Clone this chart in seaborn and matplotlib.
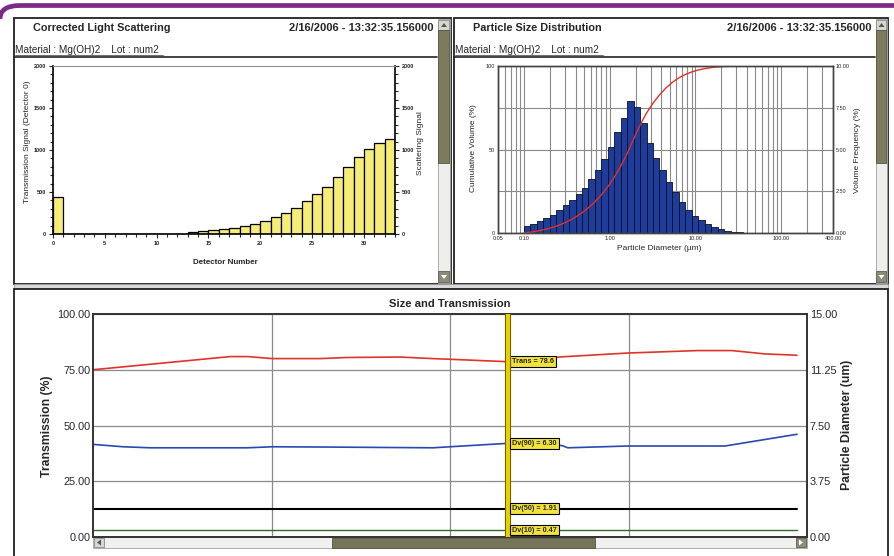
import numpy as np
import pandas as pd
import seaborn as sns
import matplotlib.pyplot as plt
from matplotlib.patches import Rectangle, Polygon, PathPatch
from matplotlib.path import Path
from matplotlib.ticker import MultipleLocator, FixedLocator, LogLocator, NullFormatter
import matplotlib.patheffects as pe

# ---- data ----
# Corrected light scattering (detector number -> signal)
det_numbers = [0, 13, 14, 15, 16, 17, 18, 19, 20, 21, 22, 23, 24, 25, 26, 27, 28, 29, 30, 31, 32]
det_signal = [435, 24, 32, 43, 59, 75, 91, 122, 154, 202, 249, 308, 391, 474, 565, 684,
              794, 913, 1016, 1079, 1134]

# Particle size distribution: bin edges (um) and volume frequency (%)
psd_edges = [0.100, 0.119, 0.141, 0.168, 0.200, 0.238, 0.283, 0.336, 0.400, 0.476,
             0.566, 0.673, 0.800, 0.951, 1.131, 1.345, 1.600, 1.903, 2.263, 2.691,
             3.200, 3.806, 4.526, 5.382, 6.400, 7.611, 9.051, 10.76, 12.80, 15.22,
             18.10, 21.53, 25.60, 30.44, 36.20]
psd_freq = [0.44, 0.56, 0.70, 0.89, 1.09, 1.35, 1.65, 1.99, 2.33, 2.72, 3.22, 3.80,
            4.43, 5.17, 6.04, 6.88, 7.91, 7.55, 6.56, 5.37, 4.47, 3.78, 3.08, 2.43,
            1.83, 1.39, 1.03, 0.76, 0.54, 0.38, 0.24, 0.14, 0.08, 0.04]
psd_xticks = [0.05, 0.10, 1.00, 10.00, 100.00, 400.00]

# Size and transmission trend (x = position along the record, 0-100)
trans_t = [0, 19.2, 21.7, 25.1, 31.8, 35.6, 43.0, 47.6, 50.0, 58.1, 65.7, 74.9, 84.7, 89.5, 94.1, 98.6]
trans_v = [75.0, 80.9, 80.9, 80.0, 80.0, 80.5, 80.7, 80.0, 79.7, 78.6, 80.8, 82.5, 83.6, 83.6, 82.1, 81.5]
dv90_t = [0, 4.2, 8.0, 21.6, 25.1, 32.8, 47.6, 50.0, 58.1, 65.7, 66.5, 74.9, 88.5, 98.6]
dv90_v = [6.23, 6.07, 6.00, 6.00, 6.07, 6.05, 6.00, 6.07, 6.30, 6.15, 6.00, 6.12, 6.12, 6.91]
dv50_t = [0, 98.6]
dv50_v = [1.91, 1.91]
dv10_t = [0, 98.6]
dv10_v = [0.47, 0.47]
cursor_t = 58.1
cursor_labels = ["Trans = 78.6", "Dv(90) = 6.30", "Dv(50) = 1.91", "Dv(10) = 0.47"]
cursor_vals = [78.6, 6.30, 1.91, 0.47]

# ---- style ----
sns.set_style("white")
plt.rcParams["font.family"] = ["Liberation Sans", "DejaVu Sans"]

W, H = 895, 556
fig = plt.figure(figsize=(W / 100, H / 100), dpi=100)
bg = fig.add_axes([0, 0, 1, 1], zorder=0)
bg.set_xlim(0, W)
bg.set_ylim(H, 0)
bg.axis("off")


def px_axes(l, t, r, b, z=2):
    return fig.add_axes([l / W, 1 - b / H, (r - l) / W, (b - t) / H], zorder=z)


def rect(x0, y0, x1, y1, fc, ec="none", lw=0, z=1):
    bg.add_patch(Rectangle((x0, y0), x1 - x0, y1 - y0, facecolor=fc,
                           edgecolor=ec, linewidth=lw, zorder=z))


def tri(pts, color, z=4):
    bg.add_patch(Polygon(pts, closed=True, facecolor=color, edgecolor="none", zorder=z))


def vscroll(x0, x1, y0, y1, t0, t1):
    rect(x0, y0, x1, y1, "#eeeeec", "#a0a0a0", 0.6, z=2)
    rect(x0 + 0.5, y0 + 1, x1 - 0.5, y0 + 11, "#d6d6d0", "#8c8c86", 0.6, z=3)
    cx = (x0 + x1) / 2
    tri([(cx - 3, y0 + 8), (cx + 3, y0 + 8), (cx, y0 + 4)], "#555555")
    rect(x0 + 0.5, t0, x1 - 0.5, t1, "#7c7b5d", "#55543f", 0.6, z=3)
    rect(x0 + 0.5, y1 - 12, x1 - 0.5, y1 - 1, "#8d8c7b", "#5f5e50", 0.6, z=3)
    tri([(cx - 3, y1 - 8), (cx + 3, y1 - 8), (cx, y1 - 4)], "white")


def hscroll(x0, x1, y0, y1, t0, t1):
    rect(x0, y0, x1, y1, "#f0f0ee", "#a0a0a0", 0.6, z=2)
    rect(t0, y0 + 0.5, t1, y1 - 0.5, "#76755a", "#55543f", 0.6, z=3)
    rect(x0 + 1, y0 + 1, x0 + 11, y1 - 1, "#d6d6d0", "#8c8c86", 0.6, z=3)
    cy = (y0 + y1) / 2
    tri([(x0 + 8, cy - 3), (x0 + 8, cy + 3), (x0 + 4, cy)], "#555555")
    rect(x1 - 11, y0 + 1, x1 - 1, y1 - 1, "#8d8c7b", "#5f5e50", 0.6, z=3)
    tri([(x1 - 8, cy - 3), (x1 - 8, cy + 3), (x1 - 4, cy)], "white")


# purple frame at top
verts = [(0, 19), (0, 5.5), (20, 5.5), (W, 5.5)]
codes = [Path.MOVETO, Path.CURVE3, Path.CURVE3, Path.LINETO]
bg.add_patch(PathPatch(Path(verts, codes), facecolor="none", edgecolor="#7b2a86",
                       linewidth=3.4, zorder=5, capstyle="butt"))

# window frames
rect(14, 18, 451, 284, "white", "#222222", 1.3)
rect(454, 18, 888, 284, "white", "#222222", 1.3)
rect(14, 284, 888, 289, "#d9d9d9", "#9a9a9a", 0.6)
rect(14, 289, 888, 575, "white", "#222222", 1.3)
vscroll(438, 450, 19, 283, 30, 163)
vscroll(876, 887, 19, 283, 30, 163)
hscroll(93, 807, 537, 548, 332, 595)

# headers
for x0, x1, title in [(33, 434, "Corrected Light Scattering"), (473, 872, "Particle Size Distribution")]:
    bg.text(x0, 28, title, fontsize=7.8, fontweight="bold", ha="left", va="center")
    bg.text(x1, 28, "2/16/2006 - 13:32:35.156000", fontsize=8, fontweight="bold",
            ha="right", va="center")
for x0, x1 in [(14, 437), (454, 875)]:
    bg.text(x0 + 1, 50, "Material : Mg(OH)2    Lot : num2", fontsize=7.2, ha="left", va="center")
    bg.plot([x0 + 1, x0 + 149], [54.5, 54.5], color="#333333", lw=0.5)
    bg.plot([x0, x1], [57, 57], color="#222222", lw=1.2)

# ---- panel 1: corrected light scattering ----
det_df = pd.DataFrame({"detector": det_numbers, "signal": det_signal})
ax1 = px_axes(53, 66, 395, 234)
sns.histplot(data=det_df, x="detector", weights="signal", bins=list(range(0, 34)), color="#f6ec78",
             edgecolor="black", linewidth=0.9, alpha=1, ax=ax1)
ax1.set_xlim(0, 33)
ax1.set_ylim(0, 2000)
ax1.set_xlabel("")
ax1.set_ylabel("")
ax1.xaxis.set_major_locator(MultipleLocator(5))
ax1.xaxis.set_minor_locator(MultipleLocator(1))
ax1.yaxis.set_major_locator(MultipleLocator(500))
ax1.yaxis.set_minor_locator(MultipleLocator(100))
ax1.tick_params(axis="both", which="both", labelsize=4, width=0.8, pad=2, direction="out")
ax1.tick_params(axis="y", which="both", left=True, right=True, labelleft=True, labelright=True)
ax1.tick_params(axis="x", which="both", bottom=True)
ax1.tick_params(which="major", length=3)
ax1.tick_params(which="minor", length=2)
for s in ["left", "right", "bottom"]:
    ax1.spines[s].set_color("black")
    ax1.spines[s].set_linewidth(1.2)
ax1.spines["top"].set_color("#909090")
for lbl in ax1.get_xticklabels() + ax1.get_yticklabels():
    lbl.set_fontweight("bold")
bg.text(28, 142, "Transmission Signal (Detector 0)", fontsize=6, rotation=90, ha="center", va="center")
bg.text(421, 143, "Scattering Signal", fontsize=6, rotation=90, ha="center", va="center")
bg.text(225, 262, "Detector Number", fontsize=5.8, fontweight="bold", ha="center", va="center")

# ---- panel 2: particle size distribution ----
edges = np.array(psd_edges)
psd_df = pd.DataFrame({"diameter": np.sqrt(edges[:-1] * edges[1:]), "freq": psd_freq})
ax2 = px_axes(498, 66, 833, 233)
sns.histplot(data=psd_df, x="diameter", weights="freq", bins=list(np.log10(edges)), log_scale=True,
             color="#1d3c9e", edgecolor="#101010", linewidth=0.6, alpha=1, ax=ax2)
ax2.set_xlim(0.05, 400)
ax2.set_ylim(0, 10)
ax2.set_xlabel("")
ax2.set_ylabel("")
ax2.set_axisbelow(True)
ax2.xaxis.set_major_locator(FixedLocator(psd_xticks))
ax2.xaxis.set_major_formatter(plt.FuncFormatter(lambda v, p: f"{v:.2f}"))
ax2.xaxis.set_minor_locator(LogLocator(base=10, subs=np.arange(2, 10)))
ax2.xaxis.set_minor_formatter(NullFormatter())
ax2.yaxis.set_major_locator(FixedLocator([0, 2.5, 5, 7.5, 10]))
ax2.yaxis.set_major_formatter(plt.FuncFormatter(lambda v, p: f"{v:.2f}"))
ax2.grid(axis="x", which="both", color="#8a8a8a", lw=0.8)
ax2.grid(axis="y", which="major", color="#8a8a8a", lw=0.8)

cum = np.concatenate([[0], np.cumsum(psd_freq) / np.sum(psd_freq) * 100])
ax2c = ax2.twinx()
ax2c.set_zorder(3)
ax2c.patch.set_alpha(0)
sns.lineplot(x=edges[:33], y=cum[:33], color="#e0302a", lw=1.0, ax=ax2c)
ax2c.set_ylim(0, 100)
ax2c.set_xlim(0.05, 400)
ax2c.set_ylabel("")
ax2c.yaxis.set_major_locator(FixedLocator([0, 50, 100]))
# bars' frequency scale on the right, cumulative scale on the left
ax2.yaxis.tick_right()
ax2c.yaxis.tick_left()
for a in (ax2, ax2c):
    a.tick_params(axis="both", which="both", labelsize=4, length=0, pad=2)
    for s in a.spines.values():
        s.set_color("#444444")
        s.set_linewidth(1.0)
bg.text(474, 148, "Cumulative Volume (%)", fontsize=6, rotation=90, ha="center", va="center")
bg.text(858, 150, "Volume Frequency (%)", fontsize=6, rotation=90, ha="center", va="center")
bg.text(659, 249, "Particle Diameter (\u00b5m)", fontsize=6, ha="center", va="center")

# ---- bottom panel: size and transmission ----
ax3 = px_axes(93, 314, 807, 537)
sns.lineplot(x=trans_t, y=trans_v, color="#e0332a", lw=1.2, ax=ax3)
ax3.set_xlim(0, 100)
ax3.set_ylim(0, 100)
ax3.xaxis.set_major_locator(FixedLocator([25, 50, 75]))
ax3.set_xticklabels([])
ax3.yaxis.set_major_locator(FixedLocator([0, 25, 50, 75, 100]))
ax3.yaxis.set_major_formatter(plt.FuncFormatter(lambda v, p: f"{v:.2f}"))
ax3.grid(True, color="#8a8a8a", lw=0.9)
ax3.tick_params(axis="both", labelsize=7.8, length=0, pad=2)

ax3r = ax3.twinx()
ax3r.set_zorder(3)
ax3r.patch.set_alpha(0)
sns.lineplot(x=dv90_t, y=dv90_v, color="#2a48b2", lw=1.2, ax=ax3r)
sns.lineplot(x=dv50_t, y=dv50_v, color="black", lw=1.5, ax=ax3r)
sns.lineplot(x=dv10_t, y=dv10_v, color="#2e6b2e", lw=1.0, ax=ax3r)
ax3r.set_ylim(0, 15)
ax3r.set_xlim(0, 100)
ax3r.yaxis.set_major_locator(FixedLocator([0, 3.75, 7.5, 11.25, 15]))
ax3r.yaxis.set_major_formatter(plt.FuncFormatter(lambda v, p: f"{v:.2f}"))
ax3r.tick_params(axis="both", labelsize=7.8, length=0, pad=2)
for a in (ax3, ax3r):
    for s in a.spines.values():
        s.set_color("#333333")
        s.set_linewidth(1.2)

ax3r.axvline(cursor_t, color="#e8d000", lw=3.2, zorder=5,
             path_effects=[pe.Stroke(linewidth=4.4, foreground="#4a4200"), pe.Normal()])
for i, (lab, val) in enumerate(zip(cursor_labels, cursor_vals)):
    target = ax3 if i == 0 else ax3r
    target.annotate(lab, xy=(cursor_t, val), xytext=(3.2, 0), textcoords="offset points",
                    fontsize=5.2, fontweight="bold", ha="left", va="center", zorder=6,
                    bbox=dict(boxstyle="square,pad=0.25", fc="#f2e23c", ec="black", lw=0.8))

bg.text(450, 304, "Size and Transmission", fontsize=8.1, fontweight="bold", ha="center", va="center")
bg.text(47, 426, "Transmission (%)", fontsize=8.8, fontweight="bold", rotation=90, ha="center", va="center")
bg.text(847, 425, "Particle Diameter (um)", fontsize=8.8, fontweight="bold", rotation=90,
        ha="center", va="center")

fig.savefig("out.png", dpi=100)
plt.close(fig)
